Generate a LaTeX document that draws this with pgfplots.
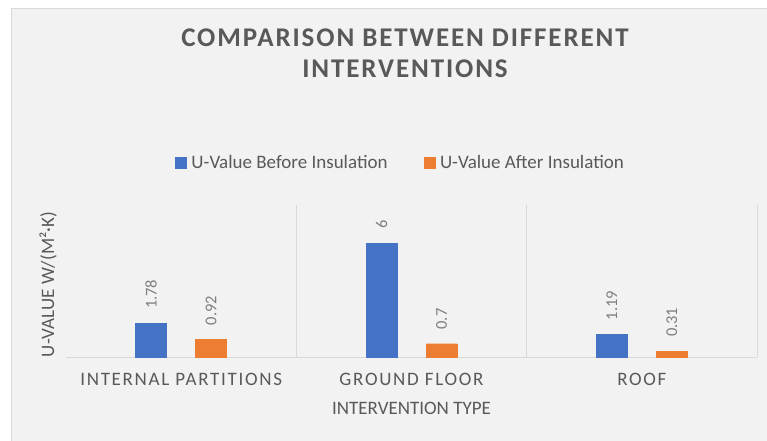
\documentclass[border=0pt]{standalone}
\usepackage{pgfplots}
\pgfplotsset{compat=1.18}
\usepackage{fontspec}
\setmainfont{Carlito}
\newfontfamily\spacedfont[LetterSpace=9]{Carlito}
\newfontfamily\titlefont[LetterSpace=7]{Carlito}
\definecolor{txt}{HTML}{595959}
\definecolor{lbl}{HTML}{7F7F7F}
\definecolor{bg}{HTML}{F2F2F2}
\definecolor{bord}{HTML}{D9D9D9}
\definecolor{gridc}{HTML}{D9D9D9}
\definecolor{cblue}{HTML}{4472C4}
\definecolor{corange}{HTML}{ED7D31}
\newcommand{\fs}{\fontsize{19bp}{19bp}\selectfont}
\begin{document}
\begin{tikzpicture}
\path[use as bounding box, fill=white] (-66bp,-84bp) rectangle (701bp,357bp);
\filldraw[fill=bg, draw=bord, line width=1bp] (-54bp,348bp) rectangle (720bp,-100bp);
\begin{axis}[
  at={(0,0)}, anchor=south west, scale only axis,
  width=691bp, height=152bp,
  xmin=-0.5, xmax=2.5, ymin=0, ymax=8,
  ybar=29bp, bar width=31bp,
  axis line style={draw=none},
  ytick=\empty,
  xtick={0,1,2},
  xticklabels={INTERNAL PARTITIONS, GROUND FLOOR, ROOF},
  major tick length=0pt, minor tick length=0pt,
  minor xtick={0.5,1.5,2.5},
  xminorgrids=true,
  minor grid style={gridc, line width=1bp},
  extra y ticks={0}, extra y tick labels={},
  extra y tick style={grid=major, major grid style={gridc, line width=1bp}},
  xticklabel style={font=\spacedfont\fs, text=txt, anchor=base, yshift=-28bp},
  xlabel={INTERVENTION TYPE},
  ylabel={U-VALUE W/(M²·K)},
  xlabel style={at={(axis description cs:0.5,-0.3355)}, anchor=center, font=\fs, text=txt},
  ylabel style={at={(axis description cs:-0.026,0.477)}, anchor=center, font=\fs, text=txt},
  point meta=explicit symbolic,
  nodes near coords,
  nodes near coords style={rotate=90, anchor=west, inner xsep=14bp, inner ysep=0pt, font=\fontsize{16.5bp}{16.5bp}\selectfont, text=lbl},
  legend columns=2,
  legend style={at={(axis description cs:0.4826,1.28)}, anchor=center, draw=none, fill=none,
    font=\fs, text=txt, nodes={inner sep=0pt},
    /tikz/every odd column/.append style={column sep=5bp},
    /tikz/every even column/.append style={column sep=36bp}},
  legend image code/.code={\fill[#1] (0bp,-5.5bp) rectangle (11bp,5.5bp);},
]
\addplot[fill=cblue, draw=cblue] coordinates {(0,1.78) [1.78] (1,6) [6] (2,1.19) [1.19]};
\addplot[fill=corange, draw=corange] coordinates {(0,0.92) [0.92] (1,0.7) [0.7] (2,0.31) [0.31]};
\legend{U-Value Before Insulation, U-Value After Insulation}
\end{axis}
\node[anchor=base, text=txt, font=\titlefont\bfseries\fontsize{27bp}{27bp}\selectfont] at (339bp,310bp) {COMPARISON BETWEEN DIFFERENT};
\node[anchor=base, text=txt, font=\titlefont\bfseries\fontsize{27bp}{27bp}\selectfont] at (339bp,279bp) {INTERVENTIONS};
\end{tikzpicture}
\end{document}
